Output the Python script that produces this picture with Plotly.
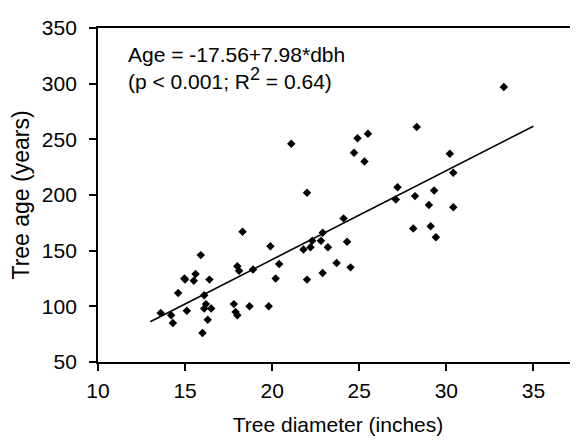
import plotly.graph_objects as go

# Tree diameter (inches) and tree age (years)
dbh = [13.6, 14.2, 14.3, 14.6, 14.96, 15.0, 15.1, 15.5, 15.6, 15.9, 16.0, 16.1, 16.1, 16.2,
       16.3, 16.4, 16.5, 17.8, 17.9, 18.0, 18.0, 18.1, 18.3, 18.7, 18.9, 19.8, 19.9, 20.2,
       20.4, 21.1, 21.8, 22.0, 22.0, 22.2, 22.3, 22.8, 22.9, 22.9, 23.2, 23.7, 24.1, 24.3,
       24.5, 24.7, 24.9, 25.3, 25.5, 27.1, 27.2, 28.1, 28.2, 28.3, 29.0, 29.1, 29.3, 29.4,
       30.2, 30.4, 30.4, 33.3]
age = [94, 92, 85, 112, 125, 124, 96, 123, 129, 146, 76, 110, 98, 102,
       88, 124, 98, 102, 95, 92, 136, 132, 167, 100, 133, 100, 154, 125,
       138, 246, 151, 202, 124, 153, 159, 159, 166, 130, 153, 139, 179, 158,
       135, 238, 251, 230, 255, 196, 207, 170, 199, 261, 191, 172, 204, 162,
       237, 220, 189, 297]

# Fitted regression shown on the chart: Age = -17.56 + 7.98*dbh
intercept = -17.56
slope = 7.98
fit_x = [13.0, 35.0]
fit_y = [intercept + slope * v for v in fit_x]

x_ticks = [10, 15, 20, 25, 30, 35]
y_ticks = [50, 100, 150, 200, 250, 300, 350]

FONT = "Liberation Sans, Arial, sans-serif"

fig = go.Figure()
fig.add_trace(go.Scatter(x=dbh, y=age, mode="markers",
                         marker=dict(symbol="diamond", size=6.5, color="black",
                                     line=dict(width=0)),
                         showlegend=False))
fig.add_trace(go.Scatter(x=fit_x, y=fit_y, mode="lines",
                         line=dict(color="black", width=1.6),
                         showlegend=False))

fig.add_annotation(x=11.6, y=314, xref="x", yref="y", xanchor="left", yanchor="middle",
                   align="left",
                   text="Age = -17.56+7.98*dbh<br>"
                        "(p < 0.001; R<sup><span style='font-size:18px'>2</span></sup> = 0.64)",
                   showarrow=False,
                   font=dict(family=FONT, size=21, color="black"))

# the page body has an 8px default margin, so the figure margins compensate for it
fig.update_layout(
    width=578, height=440,
    margin=dict(l=88, r=8, t=12, b=86),
    paper_bgcolor="white", plot_bgcolor="white",
    font=dict(family=FONT, size=21, color="black"),
    xaxis=dict(range=[10, 37.56], tickvals=x_ticks, ticks="outside", ticklen=7,
               tickwidth=1.6, tickcolor="black", showline=True, linecolor="black",
               linewidth=1.8, mirror=True, showgrid=False, zeroline=False,
               ticklabelstandoff=2,
               title=dict(text="Tree diameter (inches)", standoff=16,
                          font=dict(size=21))),
    yaxis=dict(range=[50, 350], tickvals=y_ticks, ticks="outside", ticklen=7,
               tickwidth=1.6, tickcolor="black", showline=True, linecolor="black",
               linewidth=1.8, mirror=False, showgrid=False, zeroline=False,
               ticklabelstandoff=8,
               title=dict(text="Tree age (years)", standoff=10,
                          font=dict(size=23))),
)

fig.write_html("out.html")
